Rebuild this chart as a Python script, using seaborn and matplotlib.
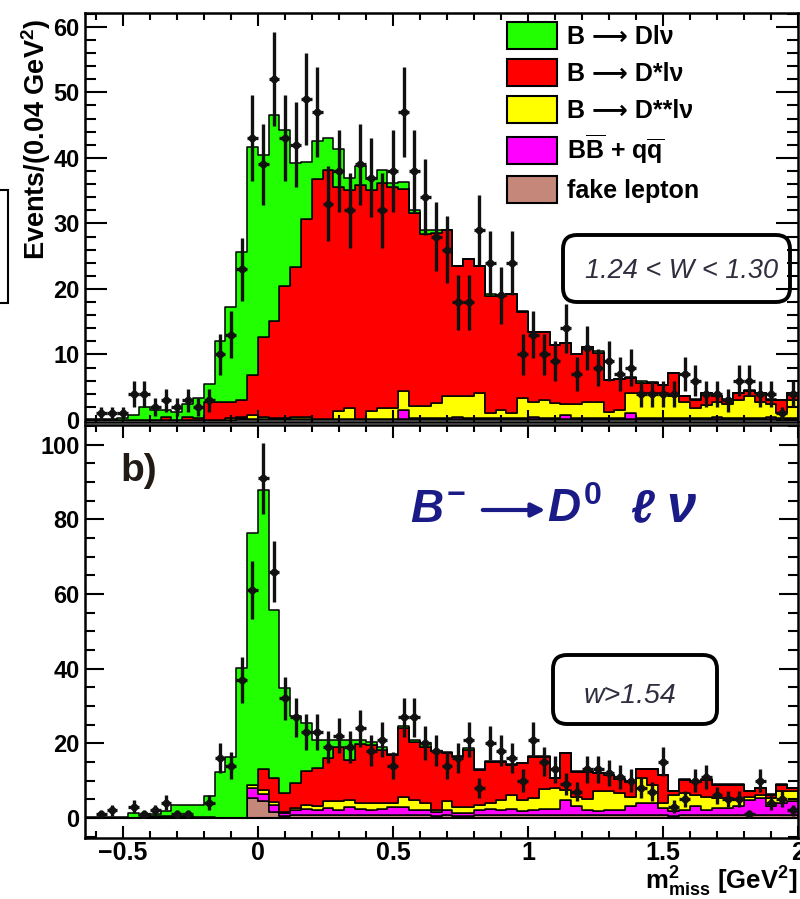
import numpy as np
import pandas as pd
import matplotlib
matplotlib.use("Agg")
import matplotlib.pyplot as plt
import seaborn as sns
from matplotlib.patches import Patch, FancyBboxPatch, Rectangle, FancyArrowPatch
from matplotlib.transforms import IdentityTransform
from matplotlib.ticker import MultipleLocator, FuncFormatter

# ---------------- data ----------------
x_min, x_max, bin_width = -0.64, 2.0, 0.04
bin_edges = np.round(np.arange(x_min, x_max + 0.0001, bin_width), 2)
bin_centers = np.round(0.5 * (bin_edges[:-1] + bin_edges[1:]), 3)

components = ["B \u27f6 Dl\u03bd", "B \u27f6 D*l\u03bd", "B \u27f6 D**l\u03bd",
              r"$\mathbf{B\overline{B}}$ + $\mathbf{q\overline{q}}$", "fake lepton"]
comp_colors = ["#22ff00", "#ff0000", "#ffff00", "#ff00ff", "#c4877a"]

# panel a) 1.24 < w < 1.30 : cumulative stack levels (top of each layer)
a_total = [0.2,0.2,0.2,0.3,0.8,2.0,1.5,1.5,1.2,2.5, 3.3,5.5,12.0,17.3,25.7,41.7,40.5,46.6,44.3,39.2,
           39.3,42.6,43.0,41.3,37.0,38.7,36.8,38.2,36.2,36.3, 32.1,29.0,29.0,29.0,23.5,24.5,23.5,19.2,19.1,19.3,
           16.6,13.5,13.5,11.5,11.7,10.0,11.2,10.6,6.1,6.3, 6.6,5.9,5.8,5.4,7.1,3.7,3.2,4.2,3.6,3.2,
           4.1,4.6,4.1,3.2,3.1,4.1]
a_dstar = [0,0,0,0,0,0,0,0.5,0,0.5, 0.3,2.7,2.7,2.8,3.0,6.8,12.7,15.1,20.4,23.4,
           30.7,36.8,38.2,35.5,35.1,35.8,35.1,36.1,35.6,35.3, 31.6,28.4,28.5,29.0,23.5,24.5,23.5,18.9,18.9,19.3,
           16.5,13.5,13.5,11.5,11.7,10.0,11.2,10.2,6.1,6.3, 6.4,5.7,5.6,5.3,7.1,3.6,3.1,4.1,3.6,3.1,
           4.1,4.5,4.1,3.1,3.1,4.1]
a_dss = [0,0,0,0,0,0,0,0,0,0, 0,0,0,0.3,0.5,0.7,0.5,0.3,0.3,0.5,
         0.4,0.2,0.2,1.4,1.9,0.2,1.4,1.9,1.9,4.4, 2.1,2.1,2.6,3.6,3.6,3.6,4.1,1.1,1.6,1.1,
         3.3,2.8,3.0,2.6,2.5,2.5,2.8,2.8,1.3,1.5, 4.1,4.1,4.1,4.1,3.6,2.8,1.8,2.3,2.8,2.5,
         3.1,3.6,2.8,2.5,1.0,3.1]
a_bkg = [0,0,0,0,0,0,0,0,0,0, 0,0,0,0,0.3,0.2,0.2,0.2,0.2,0.2,
         0.2,0.2,0.2,0.2,0.2,0.2,0.2,0.2,0.2,1.5, 0.3,0.3,0.3,0.3,0.4,0.3,0.3,0.3,0.3,0.3,
         0.3,0.4,0.3,0.3,0.8,0.3,0.3,0.3,0.3,0.3, 1.0,0.3,0.3,0.3,0.3,0.3,0.3,0.3,0.5,0.3,
         0.3,0.3,0.3,0.5,0.3,0.3]
a_fake = [0,0,0,0,0,0,0,0,0,0, 0,0,0,0,0.1,0.1,0.1,0.1,0.1,0.1,
          0.1,0.1,0.1,0.1,0.1,0.1,0.1,0.1,0.1,0.1, 0.1,0.1,0.1,0.1,0.1,0.1,0.1,0.1,0.1,0.1,
          0.1,0.1,0.1,0.1,0.1,0.1,0.1,0.1,0.1,0.1, 0.1,0.1,0.1,0.1,0.1,0.1,0.1,0.1,0.1,0.1,
          0.1,0.1,0.1,0.1,0.1,0.1]
a_data = [0,1,1,1,4,4,2,3,2,3, 2,3,10,13,23,43,39,52,43,42,
          49,47,33,38,32,39,37,32,38,47, 38,34,28,26,18,18,29,24,19,24,
          10,13,10,9,14,7,11,8,9,7, 8,4,4,4,4,7,6,4,4,3,
          6,6,4,4,1,4]
a_err = [0,1,1,1,2,2,1.4,1.7,1.4,1.7, 1.4,1.7,3.2,3.6,4.8,6.6,6.2,7.2,6.6,6.5,
         7.0,6.9,5.7,6.2,5.7,6.2,6.1,5.7,6.2,6.9, 6.2,5.8,5.3,5.1,4.2,4.2,5.4,4.9,4.4,4.9,
         3.2,3.6,3.2,3.0,3.7,2.6,3.3,2.8,3.0,2.6, 2.8,2.0,2.0,2.0,2.0,2.6,2.4,2.0,2.0,1.7,
         2.4,2.4,2.0,2.0,1.0,2.0]

# panel b) w > 1.54 : cumulative stack levels
b_total = [0.2,0.3,0.3,0.3,1.3,0.5,0.9,1.8,3.5,3.5, 3.5,5.8,12.4,16.4,40.1,76.3,87.9,55.8,34.8,27.2,
           25.5,21.0,21.0,21.0,21.0,21.0,20.4,19.1,17.2,24.6, 20.8,20.0,18.0,17.6,16.6,18.6,13.0,15.3,15.3,14.4,
           14.8,16.6,16.6,10.8,17.4,12.5,12.5,12.1,11.6,10.5, 9.7,13.1,13.1,11.6,7.2,10.3,9.8,10.3,9.0,9.0,
           9.0,7.2,8.1,6.3,9.0,8.1]
b_dstar = [0,0,0,0,0,0,0.5,0.5,0.6,0.5, 0.3,0.3,0,0,0,8.9,13.0,10.7,6.7,9.4,
           12.5,13.4,16.0,19.0,15.5,19.9,19.5,18.2,16.8,24.0, 20.4,19.1,17.8,17.4,16.4,18.2,12.8,15.1,15.1,14.2,
           14.6,16.4,16.4,10.6,17.3,12.4,12.4,12.0,11.5,10.4, 9.6,13.0,13.0,11.5,7.1,10.2,9.7,10.2,8.9,8.9,
           8.9,7.1,8.0,6.2,8.9,8.0]
b_dss = [0,0,0,0,0,0,0.5,0.5,0.6,0.5, 0.2,0,0,0,0,8.9,7.5,4.2,1.6,2.7,
         3.5,3.3,4.4,4.4,4.9,3.9,3.9,3.9,3.9,5.7, 4.8,3.9,2.1,4.6,3.0,3.0,3.5,3.9,4.8,6.1,
         4.8,5.2,7.7,8.0,7.5,5.7,5.0,7.1,7.1,6.6, 5.7,10.6,8.9,4.0,6.2,6.6,6.2,5.7,5.3,5.3,
         4.8,5.6,6.0,5.3,7.1,7.1]
b_bkg = [0,0,0,0,0,0,0.5,0.5,0.6,0.5, 0.2,0,0,0,0,8.0,6.5,3.5,1.2,2.0,
         2.4,2.0,2.6,2.2,2.8,2.5,2.2,2.4,2.8,3.0, 2.2,2.0,1.5,2.2,1.2,1.3,2.0,2.4,2.0,2.3,
         1.8,2.0,2.4,2.3,4.8,3.1,2.2,1.8,2.2,2.2, 3.1,4.0,4.0,2.7,1.8,2.2,3.1,2.2,2.7,2.7,
         3.1,4.8,5.3,3.1,4.0,4.4]
b_fake = [0,0,0,0,0,0,0,0,0,0, 0,0,0,0,0,5.3,4.5,1.5,0.5,0.8,
          0.8,0.7,0.8,0.7,0.8,0.7,0.7,0.8,0.7,0.8, 0.7,0.7,0.6,0.7,0.6,0.6,0.7,0.7,0.7,0.7,
          0.7,0.7,0.8,0.7,0.8,0.8,0.7,0.7,0.7,0.7, 0.8,0.8,0.8,0.7,0.6,0.7,0.8,0.7,0.7,0.7,
          0.8,0.8,0.8,0.7,0.8,0.8]
b_data = [0,1,2,0,3,1,2,4,1,1, 0,4,16,14,37,61,91,66,32,27,
          23,23,19,22,19,24,18,21,14,27, 27,20,18,14,16,21,8,20,18,16,
          10,21,15,13,9,7,13,13,12,11, 10,8,7,15,3,5,10,11,6,5,
          5,1,10,4,5,2]
b_err = [0,1,1.4,0,1.7,1,1.4,2,1,1, 0,2,4,3.7,6.1,7.8,9.5,8.1,5.7,5.2,
         4.8,4.8,4.4,4.7,4.4,4.9,4.2,4.6,3.7,5.2, 5.2,4.5,4.2,3.7,4.0,4.6,2.8,4.5,4.2,4.0,
         3.2,4.6,3.9,3.6,3.0,2.6,3.6,3.6,3.5,3.3, 3.2,2.8,2.6,3.9,1.7,2.2,3.2,3.3,2.4,2.2,
         2.2,1.0,3.2,2.0,2.2,1.4]

# ---------------- style ----------------
plt.rcParams["font.family"] = ["Liberation Sans", "DejaVu Sans"]
plt.rcParams["mathtext.fontset"] = "custom"
plt.rcParams["mathtext.rm"] = "Liberation Sans:bold"
plt.rcParams["mathtext.bf"] = "Liberation Sans:bold"
plt.rcParams["mathtext.it"] = "Liberation Sans:italic:bold"

W, H = 800, 899
fig = plt.figure(figsize=(W / 100, H / 100), dpi=100)
ax1 = fig.add_axes([85 / W, 1 - 422 / H, 713 / W, 409 / H])
ax2 = fig.add_axes([85 / W, 1 - 838 / H, 713 / W, 413 / H])


def draw_panel(ax, levels, data, err):
    nb = len(bin_centers)
    levels = [np.asarray(l, float) for l in levels]
    comps = []
    for k in range(len(levels)):
        below = levels[k + 1] if k + 1 < len(levels) else np.zeros(nb)
        comps.append(np.clip(levels[k] - below, 0, None))
    df = pd.DataFrame({
        "x": np.tile(bin_centers, len(components)),
        "w": np.concatenate(comps),
        "comp": np.repeat(components, nb),
    })
    sns.histplot(data=df, x="x", weights="w", hue="comp", hue_order=components,
                 multiple="stack", binwidth=bin_width, binrange=(x_min, x_max),
                 element="step", palette=dict(zip(components, comp_colors)), alpha=1,
                 edgecolor="black", linewidth=1.1, legend=False, ax=ax)
    d = np.asarray(data, float)
    e = np.asarray(err, float)
    m = d > 0
    ax.errorbar(bin_centers[m], d[m], yerr=e[m], xerr=bin_width / 2, fmt="o", ms=4.5,
                color="#111111", ecolor="#111111", elinewidth=2.4, capsize=0, zorder=5)
    ax.set_xlim(x_min, x_max)
    ax.set_xlabel("")
    ax.set_ylabel("")
    ax.xaxis.set_major_locator(MultipleLocator(0.5))
    ax.xaxis.set_minor_locator(MultipleLocator(0.1))
    ax.tick_params(which="both", direction="in", top=True, right=True,
                   bottom=True, left=True, width=1.5, labelsize=17, pad=4)
    ax.tick_params(axis="x", which="major", length=9)
    ax.tick_params(axis="x", which="minor", length=5)
    for s in ax.spines.values():
        s.set_linewidth(1.8)


draw_panel(ax1, [a_total, a_dstar, a_dss, a_bkg, a_fake], a_data, a_err)
draw_panel(ax2, [b_total, b_dstar, b_dss, b_bkg, b_fake], b_data, b_err)

ax1.set_ylim(-0.3, 62.1)
ax1.yaxis.set_major_locator(MultipleLocator(10))
ax1.yaxis.set_minor_locator(MultipleLocator(2))
ax1.tick_params(axis="y", which="major", length=16)
ax1.tick_params(axis="y", which="minor", length=8)
ax1.tick_params(axis="x", labelbottom=False)

ax2.set_ylim(-5.4, 105.3)
ax2.yaxis.set_major_locator(MultipleLocator(20))
ax2.yaxis.set_minor_locator(MultipleLocator(5))
ax2.tick_params(axis="y", which="major", length=14)
ax2.tick_params(axis="y", which="minor", length=7)
ax2.tick_params(axis="x", labelsize=18, pad=2)
ax2.xaxis.set_major_formatter(FuncFormatter(lambda v, p: f"{v:g}".replace("-", "\u2212")))
ax2.axhline(0, color="black", lw=1.5, zorder=4)

fig.canvas.draw()
for ax in (ax1, ax2):
    for lab in ax.get_yticklabels() + ax.get_xticklabels():
        lab.set_fontweight("bold")

# legend
handles = [Patch(facecolor=c, edgecolor="black", linewidth=1.5) for c in comp_colors]
leg = ax1.legend(handles, components, loc="upper left",
                 bbox_to_anchor=(507 / W, 1 - 22 / H), bbox_transform=fig.transFigure,
                 frameon=False, fontsize=18, handlelength=2.0, handleheight=1.3,
                 handletextpad=0.4, labelspacing=0.38, borderpad=0, borderaxespad=0)
for t in leg.get_texts():
    t.set_fontweight("bold")

# annotation boxes (display pixel coordinates)
box1 = FancyBboxPatch((563, H - 302), 227, 67, boxstyle="round,pad=0,rounding_size=14",
                      transform=IdentityTransform(), facecolor="none", edgecolor="black", lw=2.8)
box2 = FancyBboxPatch((553, H - 724), 164, 69, boxstyle="round,pad=0,rounding_size=14",
                      transform=IdentityTransform(), facecolor="none", edgecolor="black", lw=2.8)
fig.add_artist(box1)
fig.add_artist(box2)
fig.text(682 / W, 1 - 271 / H, "1.24 < W < 1.30", fontsize=19.5, style="italic",
         color="#2e2e3e", ha="center", va="center")
fig.text(630 / W, 1 - 696 / H, "w>1.54", fontsize=20.5, style="italic",
         color="#2e2e3e", ha="center", va="center")

fig.text(120 / W, 1 - 471 / H, "b)", fontsize=28, fontweight="bold", color="#221a14",
         ha="left", va="center")

# decay label B- -> D0 l nu
navy = "#1b1b87"
base_y = 1 - 522 / H
fig.text(410 / W, base_y, r"$B^{-}$", fontsize=33, color=navy, ha="left", va="baseline")
fig.text(547 / W, base_y, r"$D^{0}$", fontsize=33, color=navy, ha="left", va="baseline")
fig.text(630 / W, base_y, r"$\ell$", fontsize=33, color=navy, ha="left", va="baseline")
fig.text(666 / W, base_y, r"$\nu$", fontsize=38, color=navy, ha="left", va="baseline")
fig.add_artist(FancyArrowPatch((480, H - 510), (548, H - 510), arrowstyle="-|>",
                               mutation_scale=20, lw=3, color=navy,
                               transform=IdentityTransform()))

fig.text(36 / W, 1 - 139 / H, r"Events/(0.04 GeV$^{2}$)", rotation=90, fontsize=19.5,
         fontweight="bold", ha="center", va="center")
fig.text(797 / W, 1 - 899 / H, r"m$^{2}_{\mathrm{miss}}$ [GeV$^{2}$]", fontsize=18.5,
         fontweight="bold", ha="right", va="bottom")

# partial frame of the neighbouring panel on the left edge
fig.add_artist(Rectangle((-20, H - 303), 28, 113, transform=IdentityTransform(),
                         fill=False, edgecolor="black", lw=1.5))

fig.savefig("out.png", dpi=100)
